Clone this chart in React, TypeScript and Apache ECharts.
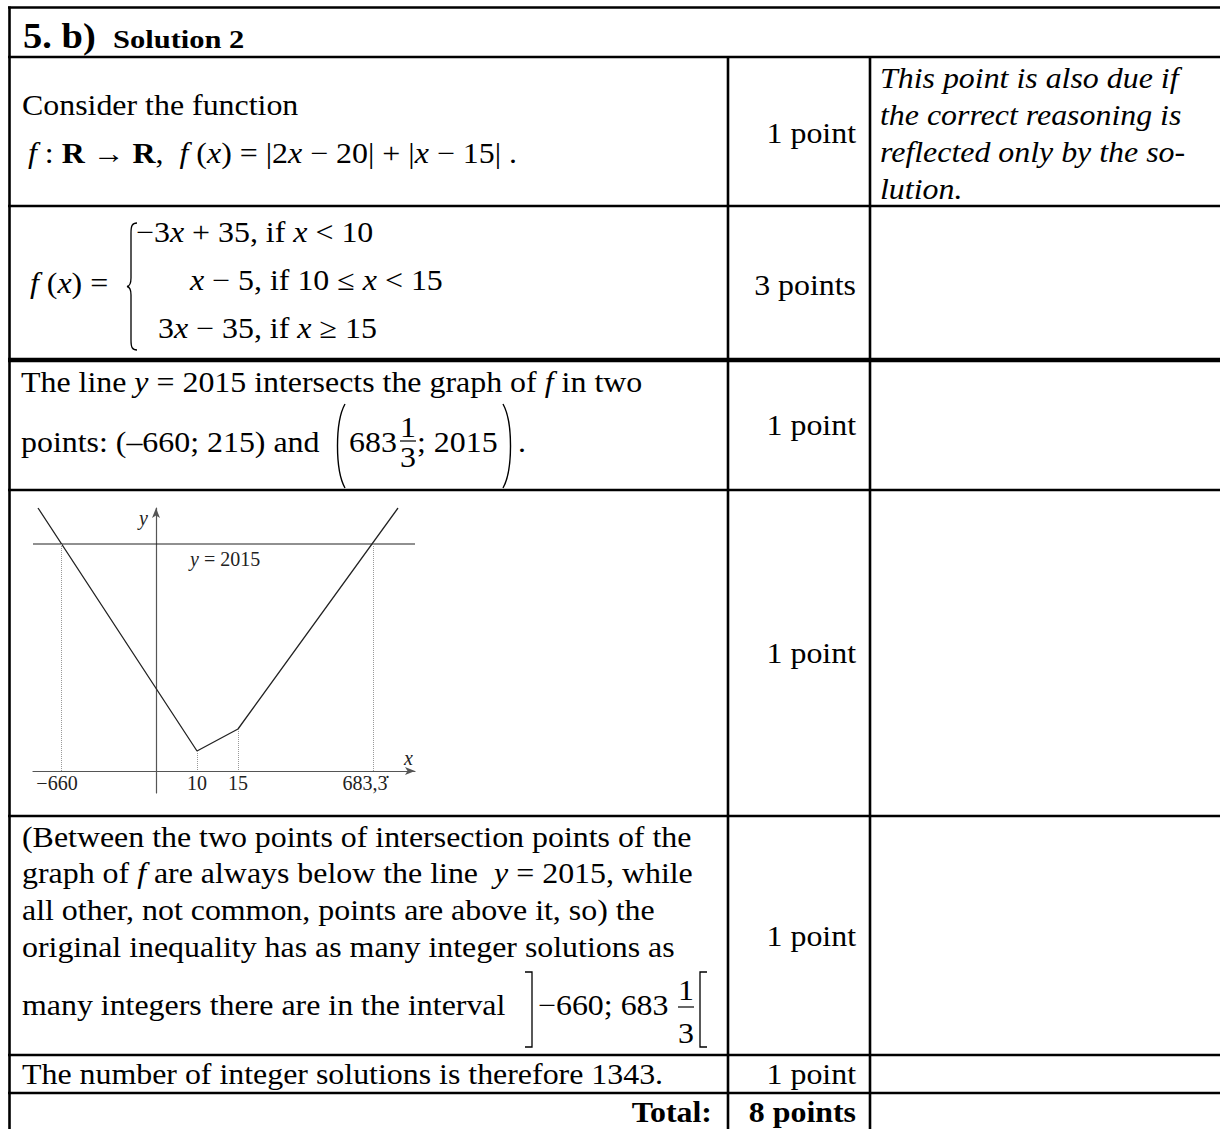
import React, { useEffect, useRef } from 'react';
import * as echarts from 'echarts';

// ---- chart data (schematic sketch units) ----
const curveX = [-118, 41, 82, 242];
const curveY = [263, 20, 42, 263];
const levelY = 227; // the line y = 2015
const dropX = [-95, 41, 82, 217];
const dropY = [227, 20, 42, 227];
const xTickPos = [-99, 41, 82, 209];
const xTickLabels = ['\u2212660', '10', '15', '683,3\u0307'];

// ---- table data ----
const pointsCol = ['1 point', '3 points', '1 point', '1 point', '1 point', '1 point'];
const totalLabel = 'Total:';
const totalPoints = '8 points';
const noteLines = ['This point is also due if', 'the correct reasoning is', 'reflected only by the so-', 'lution.'];
const row5Lines = [
  '(Between the two points of intersection points of the',
  'graph of {i|f} are always below the line  {i|y} = 2015, while',
  'all other, not common, points are above it, so) the',
  'original inequality has as many integer solutions as',
];

const SERIF = 'Liberation Serif';

echarts.graphic.registerShape(
  'mBrace',
  echarts.graphic.extendPath('M10,0 C5,0 4,3 4,10 L4,55 C4,60 3,63 0,63.5 C3,64 4,67 4,72 L4,117 C4,124 5,127 10,127', {})
);
echarts.graphic.registerShape('mParL', echarts.graphic.extendPath('M11,0 C1,18 1,66 11,84', {}));
echarts.graphic.registerShape('mParR', echarts.graphic.extendPath('M0,0 C10,18 10,66 0,84', {}));

function T(x: number, base: number, text: string, o: any = {}) {
  const fs = o.fs ?? 29;
  const weight = o.bold ? 'bold' : 'normal';
  const fstyle = o.italic ? 'italic' : 'normal';
  const color = o.color ?? '#000';
  const align = o.align ?? 'left';
  return {
    type: 'text',
    x,
    y: base - 0.34 * fs,
    scaleX: o.sx ?? 1.1,
    silent: true,
    z: 10,
    style: {
      text,
      fill: color,
      fontSize: fs,
      fontFamily: SERIF,
      fontWeight: weight,
      fontStyle: fstyle,
      align,
      verticalAlign: 'middle',
      textAlign: align,
      textVerticalAlign: 'middle',
      rich: {
        i: { fontStyle: 'italic', fontWeight: weight, fontSize: fs, fontFamily: SERIF, fill: color },
        b: { fontWeight: 'bold', fontStyle: fstyle, fontSize: fs, fontFamily: SERIF, fill: color },
      },
    },
  };
}

function L(x1: number, y1: number, x2: number, y2: number, w = 2.6, color = '#000') {
  return { type: 'line', silent: true, z: 11, shape: { x1, y1, x2, y2 }, style: { stroke: color, lineWidth: w } };
}

function P(type: string, x: number, y: number, w = 1.4) {
  return { type, x, y, silent: true, z: 11, style: { stroke: '#000', fill: 'none', lineWidth: w } };
}

function buildGraphic() {
  const el: any[] = [];
  // table rules
  const W = 1222;
  el.push(L(8, 7.5, W, 7.5));
  el.push(L(9.5, 6.5, 9.5, 1130));
  [57, 206, 490, 816, 1055, 1093].forEach((y) => el.push(L(8, y, W, y)));
  el.push(L(8, 360, W, 360, 4.5));
  el.push(L(728, 57, 728, 1130));
  el.push(L(870, 57, 870, 1130));

  // title
  el.push(T(23, 48, '5. b)', { bold: true, fs: 35 }));
  el.push(T(113, 48, 'Solution 2', { bold: true, fs: 25, sx: 1.22 }));

  // row 1
  el.push(T(22, 115, 'Consider the function'));
  el.push(T(28, 163, '{i|f} : {b|R} \u2192 {b|R},  {i|f} ({i|x}) = |2{i|x} \u2212 20| + |{i|x} \u2212 15| .'));
  noteLines.forEach((t, k) => el.push(T(880, 88 + k * 37, t, { italic: true })));

  // row 2
  el.push(T(30, 293, '{i|f} ({i|x}) ='));
  el.push(P('mBrace', 127, 223, 1.3));
  el.push(T(136, 242, '\u22123{i|x} + 35, if {i|x} < 10'));
  el.push(T(190, 290, '{i|x} \u2212 5, if 10 \u2264 {i|x} < 15'));
  el.push(T(158, 338, '3{i|x} \u2212 35, if {i|x} \u2265 15'));

  // row 3
  el.push(T(21, 392, 'The line {i|y} = 2015 intersects the graph of {i|f} in two'));
  el.push(T(21, 452, 'points: (\u2013660; 215) and'));
  el.push(P('mParL', 334, 404));
  el.push(T(349, 452, '683'));
  el.push(T(408, 437, '1', { align: 'center' }));
  el.push(L(400, 441, 416, 441, 1.2));
  el.push(T(408, 467, '3', { align: 'center' }));
  el.push(T(417, 452, '; 2015'));
  el.push(P('mParR', 503, 404));
  el.push(T(518, 452, '.'));

  // row 4 chart annotations
  el.push(T(190, 566, '{i|y} = 2015', { fs: 20, sx: 1, color: '#222' }));
  el.push(T(404, 765, 'x', { fs: 20, sx: 1, italic: true, color: '#222' }));
  el.push(T(139, 525, 'y', { fs: 20, sx: 1, italic: true, color: '#222' }));

  // row 5
  row5Lines.forEach((t, k) => el.push(T(22, 847 + k * 36.7, t)));
  el.push(T(22, 1015, 'many integers there are in the interval'));
  el.push({ type: 'polyline', silent: true, z: 11, shape: { points: [[525, 972], [532, 972], [532, 1047], [525, 1047]] }, style: { stroke: '#000', fill: 'none', lineWidth: 1.3 } });
  el.push(T(538, 1015, '\u2212660; 683'));
  el.push(T(686, 1000, '1', { align: 'center' }));
  el.push(L(678, 1007, 694, 1007, 1.2));
  el.push(T(686, 1043, '3', { align: 'center' }));
  el.push({ type: 'polyline', silent: true, z: 11, shape: { points: [[707, 972], [700, 972], [700, 1047], [707, 1047]] }, style: { stroke: '#000', fill: 'none', lineWidth: 1.3 } });

  // row 6
  el.push(T(22, 1084, 'The number of integer solutions is therefore 1343.'));

  // points column
  const pointBases = [143, 295, 435, 663, 946, 1084];
  pointsCol.forEach((t, k) => el.push(T(856, pointBases[k], t, { align: 'right' })));

  // total row
  el.push(T(712, 1122, totalLabel, { bold: true, align: 'right' }));
  el.push(T(856, 1122, totalPoints, { bold: true, align: 'right' }));
  return el;
}

export default function App() {
  const ref = useRef<HTMLDivElement>(null);
  useEffect(() => {
    if (!ref.current) return;
    const chart = echarts.init(ref.current, undefined, { renderer: 'svg' });
    const axisLine = { color: '#555', width: 1.2 };
    chart.setOption({
      animation: false,
      backgroundColor: '#fff',
      grid: { left: 33, top: 508, width: 382, height: 285, containLabel: false, outerBoundsMode: 'none' },
      xAxis: {
        type: 'value',
        min: -123,
        max: 259,
        axisLine: { onZero: true, symbol: ['none', 'arrow'], symbolSize: [6, 10], lineStyle: axisLine },
        axisTick: { show: false },
        splitLine: { show: false },
        axisLabel: {
          customValues: xTickPos,
          formatter: (v: number) => {
            const k = xTickPos.indexOf(v);
            return k >= 0 ? xTickLabels[k] : '';
          },
          color: '#222',
          fontFamily: SERIF,
          fontSize: 20,
          margin: -20,
        },
      },
      yAxis: {
        type: 'value',
        min: -22,
        max: 263,
        axisLine: { onZero: true, symbol: ['none', 'arrow'], symbolSize: [6, 10], lineStyle: axisLine },
        axisTick: { show: false },
        axisLabel: { show: false },
        splitLine: { show: false },
      },
      series: [
        {
          type: 'line',
          data: curveX.map((x, k) => [x, curveY[k]]),
          symbol: 'none',
          lineStyle: { color: '#222', width: 1.3 },
          markLine: {
            silent: true,
            symbol: ['none', 'none'],
            label: { show: false },
            lineStyle: { type: 'dotted', color: '#999', width: 1 },
            data: dropX.map((x, k) => [{ coord: [x, dropY[k]] }, { coord: [x, 0] }]),
          },
        },
        {
          type: 'line',
          data: [[-123, levelY], [259, levelY]],
          symbol: 'none',
          lineStyle: { color: '#222', width: 1.2 },
        },
      ],
      graphic: { elements: buildGraphic() },
    });
    return () => chart.dispose();
  }, []);
  return <div ref={ref} style={{ position: 'absolute', left: 0, top: 0, width: 1220, height: 1129, background: '#fff' }} />;
}
